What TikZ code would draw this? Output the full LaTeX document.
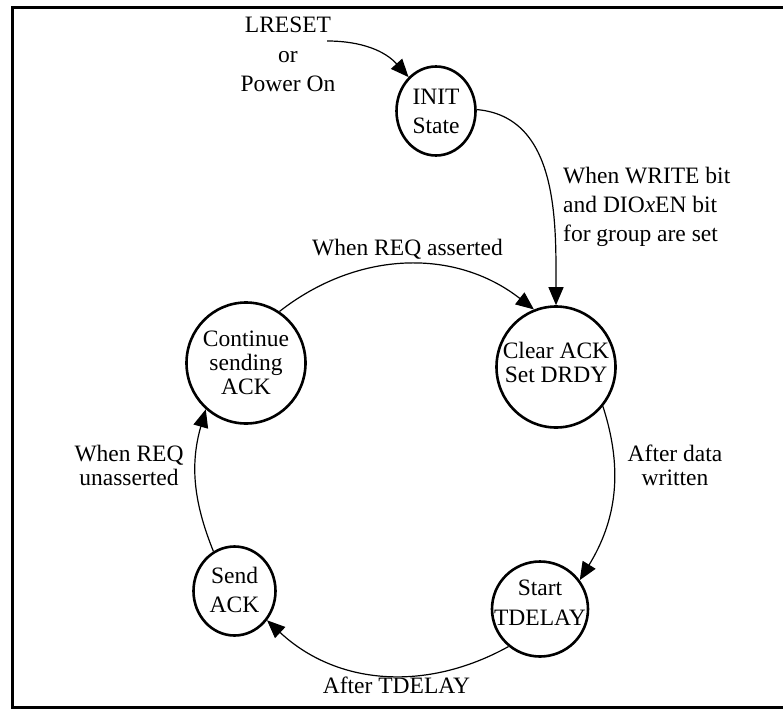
\documentclass[tikz,border=0pt]{standalone}
\usepackage{fontspec}
\setmainfont{Liberation Serif}
\usetikzlibrary{shapes.geometric,arrows.meta}
\begin{document}
\begin{tikzpicture}[x=1pt,y=-1pt,
  state/.style={ellipse, draw, line width=2.6pt, inner sep=0pt},
  stxt/.style={font=\fontsize{23.5}{29}\selectfont, align=center, inner sep=0pt},
  stxttight/.style={font=\fontsize{23.5}{24}\selectfont, align=center, inner sep=0pt},
  edge/.style={line width=1.2pt, -{Triangle[length=18pt,width=15pt]}},
  lbl/.style={font=\fontsize{23.5}{29}\selectfont, inner sep=0pt, align=center},
]
\useasboundingbox (0,0) rectangle (783,709);
\draw[line width=3pt] (783,7.5) -- (12.5,7.5) -- (12.5,707) -- (783,707);

% states
\node[state, minimum width=79pt, minimum height=89pt,
  label={[stxt]center:INIT\\State}] (init) at (436,111) {};
\node[state, minimum width=119pt, minimum height=121pt,
  label={[stxttight]center:Continue\\sending\\ACK}] (cont) at (246,363) {};
\node[state, minimum width=119pt, minimum height=121pt,
  label={[stxttight, yshift=4.5pt]center:Clear ACK\\Set DRDY}] (clear) at (556,367) {};
\node[state, minimum width=82pt, minimum height=89pt,
  label={[stxt, yshift=1pt]center:Send\\ACK}] (send) at (234.5,591) {};
\node[state, minimum width=96pt, minimum height=95pt,
  label={[stxt, font=\fontsize{23.5}{30}\selectfont, yshift=6pt]center:Start\\TDELAY}] (start) at (540,609) {};

% source of reset arrow
\coordinate (src) at (327,41);
\node[lbl, font=\fontsize{23.5}{29.5}\selectfont] (reset) at (288,54.75) {LRESET\\or\\Power On};

% edges
\draw[edge] (src) to[out=0, in=132] (init.129);
\draw[edge] (init.2) to[out=-5, in=90] (clear.90);
\draw[edge] (cont.57) to[out=38, in=142] (clear.111);
\draw[edge] (clear.-40) to[out=-72, in=58.5] (start.36);
\draw[edge] (start.-130.5) to[out=209, in=-43] (send.-42);
\draw[edge] (send.118) to[out=112, in=-106] (cont.-131);

% labels
\node[lbl, align=left, anchor=west] (lwrite) at (563,206.5) {When WRITE bit\\and DIO\textit{x}EN bit\\for group are set};
\node[lbl, anchor=base] (lreq) at (407.5,255) {When REQ asserted};
\node[lbl, font=\fontsize{23.5}{23.5}\selectfont] (ldata) at (675,465.5) {After data\\written};
\node[lbl, font=\fontsize{23.5}{23.5}\selectfont] (lunreq) at (129,465.5) {When REQ\\unasserted};
\node[lbl, anchor=base] (ldelay) at (396.5,693) {After TDELAY};
\end{tikzpicture}
\end{document}
